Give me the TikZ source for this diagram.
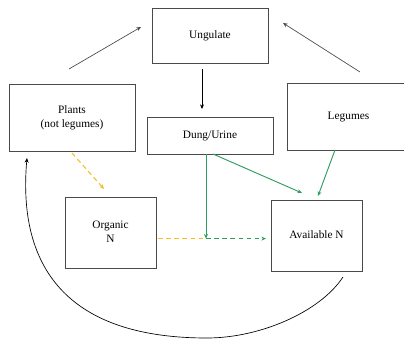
\documentclass[tikz,border=0pt]{standalone}
\usepackage{fontspec}
\setmainfont{Liberation Serif}
\usetikzlibrary{arrows.meta}
\definecolor{boxgray}{HTML}{4A4A4A}
\definecolor{ygold}{HTML}{F2BE22}
\definecolor{ngreen}{HTML}{2E9E60}
\newcommand{\bxtext}[1]{\raisebox{-1.6pt}{\begin{tabular}{@{}c@{}}#1\end{tabular}}}
\tikzset{
  box/.style={draw=boxgray, line width=0.6pt, inner sep=0pt,
    font=\fontsize{8.5}{11}\selectfont},
  arr/.style={line width=0.5pt, -{Stealth[length=3.5pt,width=3pt]}},
  dsh/.style={dash pattern=on 3.5pt off 2.6pt},
  yarr/.style={arr, draw=ygold, line width=0.8pt, dsh},
  garr/.style={arr, draw=ngreen, line width=0.7pt},
}
\begin{document}
\begin{tikzpicture}[x=0.75pt,y=-0.75pt]
\useasboundingbox (0,0) rectangle (404,339);
\node[box, minimum width=116*0.75pt, minimum height=55*0.75pt] (ung) at (210,35.5) {\bxtext{Ungulate}};
\node[box, minimum width=126*0.75pt, minimum height=67*0.75pt] (pla) at (72,117.5) {\bxtext{Plants\\(not legumes)}};
\node[box, minimum width=126*0.75pt, minimum height=37*0.75pt] (dung) at (210,135.5) {\bxtext{Dung/Urine}};
\node[box, minimum width=119*0.75pt, minimum height=67*0.75pt, text width=117*0.75pt, align=center] (leg) at (346.5,116.5) {\hspace*{3pt}\bxtext{Legumes}};
\node[box, minimum width=91*0.75pt, minimum height=71*0.75pt] (org) at (110.5,232.5) {\bxtext{Organic\\N}};
\node[box, minimum width=91*0.75pt, minimum height=71*0.75pt] (avl) at (316.5,235.5) {\bxtext{Available N}};
% free ends
\coordinate (p1) at (69,69);
\coordinate (u1) at (141,27);
\coordinate (l1) at (360,72);
\coordinate (u2) at (283,23);
\coordinate (u3) at (202,69);
\coordinate (d0) at (202,109);
\coordinate (d1) at (213,154);
\coordinate (a1) at (302,193);
\coordinate (d2) at (206,154);
\coordinate (m) at (206,238.6);
\coordinate (l2) at (335,150);
\coordinate (a2) at (318,196);
\coordinate (p2) at (72,153);
\coordinate (o1) at (104,189);
\coordinate (o2) at (158,238.6);
\coordinate (a3) at (266,238.6);
\coordinate (a4) at (343,277);
\coordinate (b) at (207,338);
\coordinate (p3) at (27,158);
\draw[arr, draw=boxgray] (p1) -- (u1);
\draw[arr, draw=boxgray] (l1) -- (u2);
\draw[arr, draw=black] (u3) -- (d0);
\draw[garr] (d1) -- (a1);
\draw[garr] (d2) -- (m);
\draw[garr] (l2) -- (a2);
\draw[yarr] (p2) -- (o1);
\draw[draw=ygold, line width=0.8pt, dsh] (o2) -- (m);
\draw[garr, dsh] (m) -- (a3);
\draw[arr, draw=black] (a4) .. controls (320,312) and (260,338) .. (b)
  .. controls (60,338) and (18,260) .. (p3);
\end{tikzpicture}
\end{document}
